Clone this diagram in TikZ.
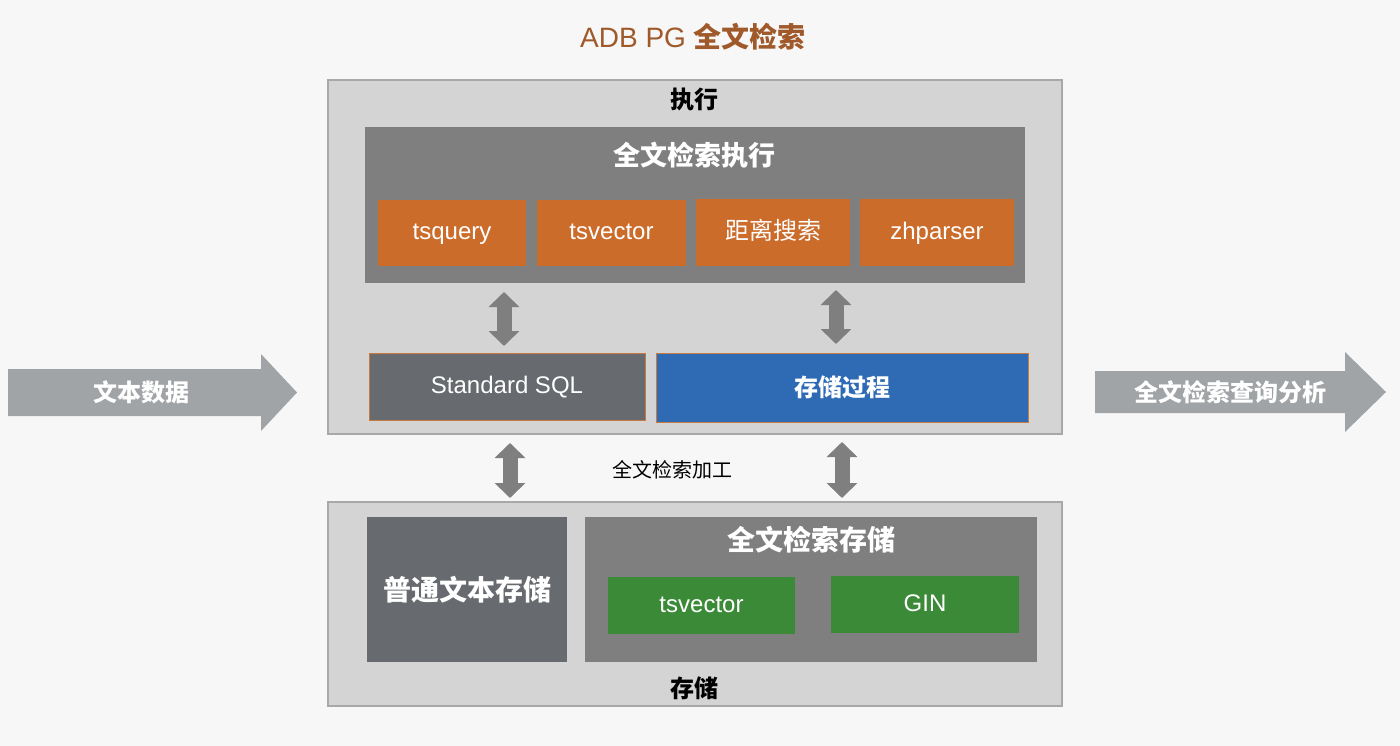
\documentclass[tikz,border=0pt]{standalone}
\usepackage{fontspec}
\setmainfont{Liberation Sans}
\newfontfamily\cjk{Noto Sans CJK SC}
\usetikzlibrary{arrows.meta}
\definecolor{bgc}{HTML}{F7F7F7}
\definecolor{outerfill}{HTML}{D4D4D4}
\definecolor{outerline}{HTML}{A8A8A8}
\definecolor{midgray}{HTML}{7F7F7F}
\definecolor{orangec}{HTML}{CB6C2B}
\definecolor{slate}{HTML}{676B70}
\definecolor{bluec}{HTML}{2F6BB5}
\definecolor{greenc}{HTML}{3B8A38}
\definecolor{bigarrow}{HTML}{A0A4A7}
\definecolor{titlec}{HTML}{A0592A}
\definecolor{sqlline}{HTML}{C97A40}
\newcommand{\fsz}[1]{\fontsize{#1}{#1}\selectfont}
\tikzset{
  outerbox/.style={draw=outerline, line width=1.2pt, fill=outerfill, inner sep=0pt},
  graybox/.style={fill=midgray, inner sep=0pt},
  latintext/.style={text=white, font=\fsz{24}, text height=17pt, text depth=3pt},
  orangebox/.style={fill=orangec, inner sep=0pt, latintext},
  greenbox/.style={fill=greenc, inner sep=0pt, latintext},
  dblarrow/.style={draw=midgray, line width=15pt, {Triangle[length=15pt,width=30pt]}-{Triangle[length=15pt,width=30pt]}},
  cjkbold/.style={font=\cjk\bfseries\fsz{#1}},
}
\begin{document}
\begin{tikzpicture}[x=1pt,y=-1pt]
\fill[bgc] (0,0) rectangle (1400,746);
\useasboundingbox (0,0) rectangle (1400,746);

% title
\node[text=titlec, inner sep=0pt] (title) at (693,37) {\fsz{28}ADB PG {\cjk\bfseries 全文检索}};

% execution box
\node[outerbox, minimum width=734pt, minimum height=354pt] (exec) at (695,257) {};
\node[cjkbold=24, text=black] (execlbl) at (694,99) {执行};
\node[graybox, minimum width=660pt, minimum height=156pt] (inner) at (695,205) {};
\node[cjkbold=27, text=white] (innerlbl) at (694,155) {全文检索执行};
\node[orangebox, minimum width=148pt, minimum height=66pt] (tsq) at (452,233) {tsquery};
\node[orangebox, minimum width=149pt, minimum height=66pt] (tsv) at (611.5,233) {tsvector};
\node[orangebox, minimum width=154pt, minimum height=67pt] (dist) at (773,232.5) {\cjk 距离搜索};
\node[orangebox, minimum width=154pt, minimum height=67pt] (zhp) at (937,232.5) {zhparser};

\node[fill=slate, draw=sqlline, line width=0.8pt, inner sep=0pt, minimum width=276pt, minimum height=67pt, latintext] (sql) at (507,386.5) {Standard SQL};
\node[fill=bluec, draw=sqlline, line width=0.6pt, inner sep=0pt, minimum width=372pt, minimum height=69pt, text=white, cjkbold=24] (proc) at (842,387.5) {存储过程};

% storage box
\node[outerbox, minimum width=734pt, minimum height=204pt] (store) at (695,604) {};
\node[fill=slate, inner sep=0pt, minimum width=200pt, minimum height=145pt, text=white, cjkbold=28] (plain) at (467,589.5) {普通文本存储};
\node[graybox, minimum width=452pt, minimum height=145pt] (ftstore) at (811,589.5) {};
\node[cjkbold=28, text=white] (ftlbl) at (811,540) {全文检索存储};
\node[greenbox, minimum width=187pt, minimum height=57pt] (gtsv) at (701.5,605.5) {tsvector};
\node[greenbox, minimum width=188pt, minimum height=57pt] (gin) at (925,604.5) {GIN};
\node[cjkbold=24, text=black] (storelbl) at (694,688) {存储};

% double arrows
\coordinate (a1t) at (504,292);
\coordinate (a1b) at (504,346);
\draw[dblarrow] (a1t) -- (a1b);
\coordinate (a2t) at (836,290);
\coordinate (a2b) at (836,344);
\draw[dblarrow] (a2t) -- (a2b);
\coordinate (a3t) at (510,443);
\coordinate (a3b) at (510,498);
\draw[dblarrow] (a3t) -- (a3b);
\coordinate (a4t) at (842,442);
\coordinate (a4b) at (842,498);
\draw[dblarrow] (a4t) -- (a4b);
\node[font=\cjk\fsz{20}, text=black] (proclbl) at (672,470) {全文检索加工};

% big arrows
\fill[bigarrow] (8,369) -- (261,369) -- (261,354) -- (297,392.5) -- (261,431) -- (261,416) -- (8,416) -- cycle;
\node[cjkbold=24, text=white] (inlbl) at (141,392) {文本数据};
\fill[bigarrow] (1095,371) -- (1345,371) -- (1345,352) -- (1386,392) -- (1345,432) -- (1345,413) -- (1095,413) -- cycle;
\node[cjkbold=24, text=white] (outlbl) at (1230,392) {全文检索查询分析};
\end{tikzpicture}
\end{document}
